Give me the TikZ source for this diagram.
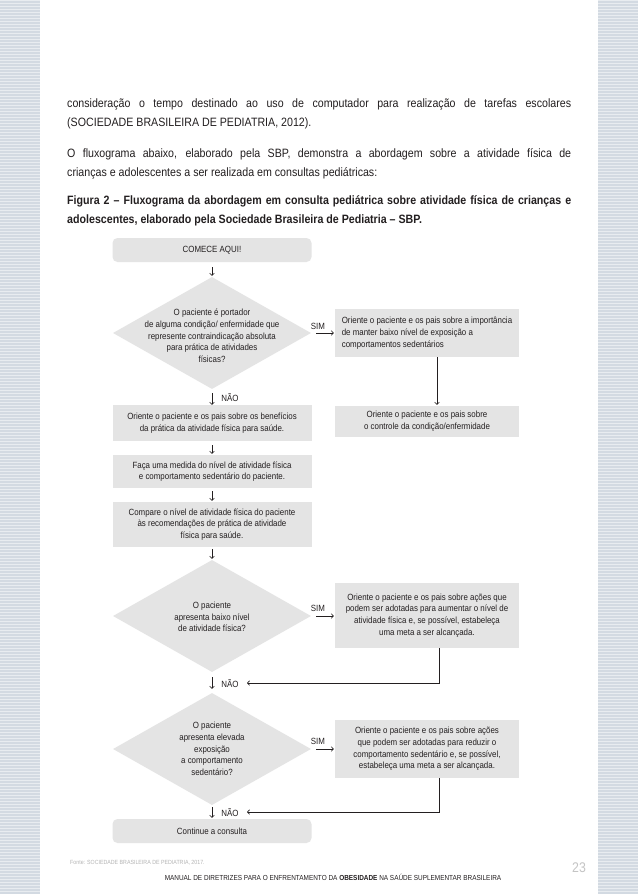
\documentclass[tikz,border=0pt]{standalone}
\usepackage{fontspec}
\setmainfont{Liberation Sans}[FakeStretch=0.88]
\usetikzlibrary{arrows.meta,shapes.geometric}
\definecolor{boxgray}{HTML}{E4E4E4}
\definecolor{txt}{HTML}{231F20}
\definecolor{stripeA}{HTML}{D3DAE2}
\definecolor{stripeB}{HTML}{E8ECF0}
\definecolor{fontegray}{HTML}{B4B4B4}
\definecolor{pagegray}{HTML}{C4C4C4}
\tikzset{
  body/.style={anchor=base west, inner sep=0, font=\fontsize{12.1}{14}\selectfont, text=txt},
  bodyb/.style={body, font=\fontsize{12.1}{14}\selectfont\bfseries},
  flow/.style={inner sep=0, text=txt, font=\fontsize{9}{11.7}\selectfont, align=center},
  box/.style={flow, fill=boxgray},
  lbox/.style={box, minimum width=199pt},
  rbox/.style={box, minimum width=184pt},
  rounded/.style={rounded corners=5pt},
  dia/.style={diamond, fill=boxgray, inner sep=0, minimum width=198pt, minimum height=112pt},
  lbl/.style={inner sep=0, text=txt, font=\fontsize{9}{10}\selectfont},
  arr/.style={draw=txt, line width=0.6pt, -{Straight Barb[length=2.2pt,width=4.6pt]}}
}
\begin{document}
\begin{tikzpicture}[x=1pt,y=-1pt]
\useasboundingbox (0,0) rectangle (638,894);
\fill[white] (0,0) rectangle (638,894);
% side stripes
\fill[stripeA] (0,0) rectangle (40,894);
\fill[stripeA] (598,0) rectangle (638,894);
\foreach \k in {0,...,297}{
  \fill[stripeB] (0,3*\k) rectangle (40,3*\k+1.4);
  \fill[stripeB] (598,3*\k) rectangle (638,3*\k+1.4);
}
% body text
\node[body] (p1a) at (67,107) {\makebox[504pt][s]{consideração o tempo destinado ao uso de computador para realização de tarefas escolares}};
\node[body] (p1b) at (67,126) {(SOCIEDADE BRASILEIRA DE PEDIATRIA, 2012).};
\node[body] (p2a) at (67,157) {\makebox[504pt][s]{O fluxograma abaixo, elaborado pela SBP, demonstra a abordagem sobre a atividade física de}};
\node[body] (p2b) at (67,176) {crianças e adolescentes a ser realizada em consultas pediátricas:};
\node[bodyb] (c1) at (67,204) {\makebox[504pt][s]{Figura 2 – Fluxograma da abordagem em consulta pediátrica sobre atividade física de crianças e}};
\node[bodyb] (c2) at (67,223) {adolescentes, elaborado pela Sociedade Brasileira de Pediatria – SBP.};
% flowchart: left column
\node[lbox, rounded, minimum height=24pt] (start) at (212,250) {COMECE AQUI!};
\node[dia] (d1) at (212,333) {};
\node[flow] (d1t) at (212,336) {O paciente é portador\\de alguma condição/ enfermidade que\\represente contraindicação absoluta\\para prática de atividades\\físicas?};
\node[lbox, minimum height=36pt] (l1) at (212,423) {Oriente o paciente e os pais sobre os benefícios\\da prática da atividade física para saúde.};
\node[lbox, minimum height=33pt] (l2) at (212,471.5) {Faça uma medida do nível de atividade física\\e comportamento sedentário do paciente.};
\node[lbox, minimum height=45pt] (l3) at (212,524.5) {Compare o nível de atividade física do paciente\\às recomendações de prática de atividade\\física para saúde.};
\node[dia] (d2) at (212,616) {};
\node[flow] (d2t) at (212,617) {O paciente\\apresenta baixo nível\\de atividade física?};
\node[dia] (d3) at (212,749) {};
\node[flow] (d3t) at (212,749) {O paciente\\apresenta elevada\\exposição\\a comportamento\\sedentário?};
\node[lbox, rounded, minimum height=24pt] (end) at (212,831) {Continue a consulta};
% right column
\node[rbox, align=left, minimum height=48pt] (r1) at (427,333) {Oriente o paciente e os pais sobre a importância\\de manter baixo nível de exposição a\\comportamentos sedentários};
\node[rbox, minimum height=31pt] (r2) at (427,421.5) {Oriente o paciente e os pais sobre\\o controle da condição/enfermidade};
\node[rbox, minimum height=65pt] (r3) at (427,615.5) {Oriente o paciente e os pais sobre ações que\\podem ser adotadas para aumentar o nível de\\atividade física e, se possível, estabeleça\\uma meta a ser alcançada.};
\node[rbox, minimum height=58pt] (r4) at (427,749) {Oriente o paciente e os pais sobre ações\\que podem ser adotadas para reduzir o\\comportamento sedentário e, se possível,\\estabeleça uma meta a ser alcançada.};
% vertical arrows
\draw[arr] ([yshift=-5pt]start.south) -- ([yshift=1pt]d1.north);
\draw[arr] ([yshift=-4pt]d1.south) -- (l1.north);
\draw[arr] ([yshift=-4pt]l1.south) -- ([yshift=1pt]l2.north);
\draw[arr] ([yshift=-3pt]l2.south) -- ([yshift=1pt]l3.north);
\draw[arr] ([yshift=-2pt]l3.south) -- ([yshift=1pt]d2.north);
\draw[arr] ([yshift=-5pt]d2.south) -- ([yshift=4pt]d3.north);
\draw[arr] ([yshift=-2pt]d3.south) -- ([yshift=1pt]end.north);
\node[lbl] (n1) at (230,398) {NÃO};
\node[lbl] (n2) at (230,684) {NÃO};
\node[lbl] (n3) at (230,813) {NÃO};
% SIM arrows
\draw[arr] ([xshift=5pt]d1.east) -- ([xshift=-1pt]r1.west);
\draw[arr] ([xshift=5pt]d2.east) -- ([xshift=-1pt]r3.west |- d2.east);
\draw[arr] ([xshift=5pt]d3.east) -- ([xshift=-1pt]r4.west);
\node[lbl] (s1) at (318,326) {SIM};
\node[lbl] (s2) at (318,608) {SIM};
\node[lbl] (s3) at (318,741) {SIM};
% right-side connectors
\draw[arr] ([xshift=10pt]r1.south) -- ([xshift=10pt,yshift=1pt]r2.north);
\coordinate (c2) at (247,683);
\coordinate (c3) at (247,812);
\draw[arr] ([xshift=12pt]r3.south) |- (c2);
\draw[arr] ([xshift=12pt]r4.south) |- (c3);
% footer
\node[anchor=base west, inner sep=0, text=fontegray, font=\fontsize{6}{7}\selectfont] (fonte) at (70,864) {Fonte: SOCIEDADE BRASILEIRA DE PEDIATRIA, 2017.};
\node[anchor=base, inner sep=0, text=txt, font=\fontsize{7.3}{9}\selectfont] (foot) at (333,880) {MANUAL DE DIRETRIZES PARA O ENFRENTAMENTO DA \textbf{OBESIDADE} NA SAÚDE SUPLEMENTAR BRASILEIRA};
\node[inner sep=0, text=pagegray, font=\fontsize{14}{16}\selectfont] (page) at (579,868) {23};
\end{tikzpicture}
\end{document}
